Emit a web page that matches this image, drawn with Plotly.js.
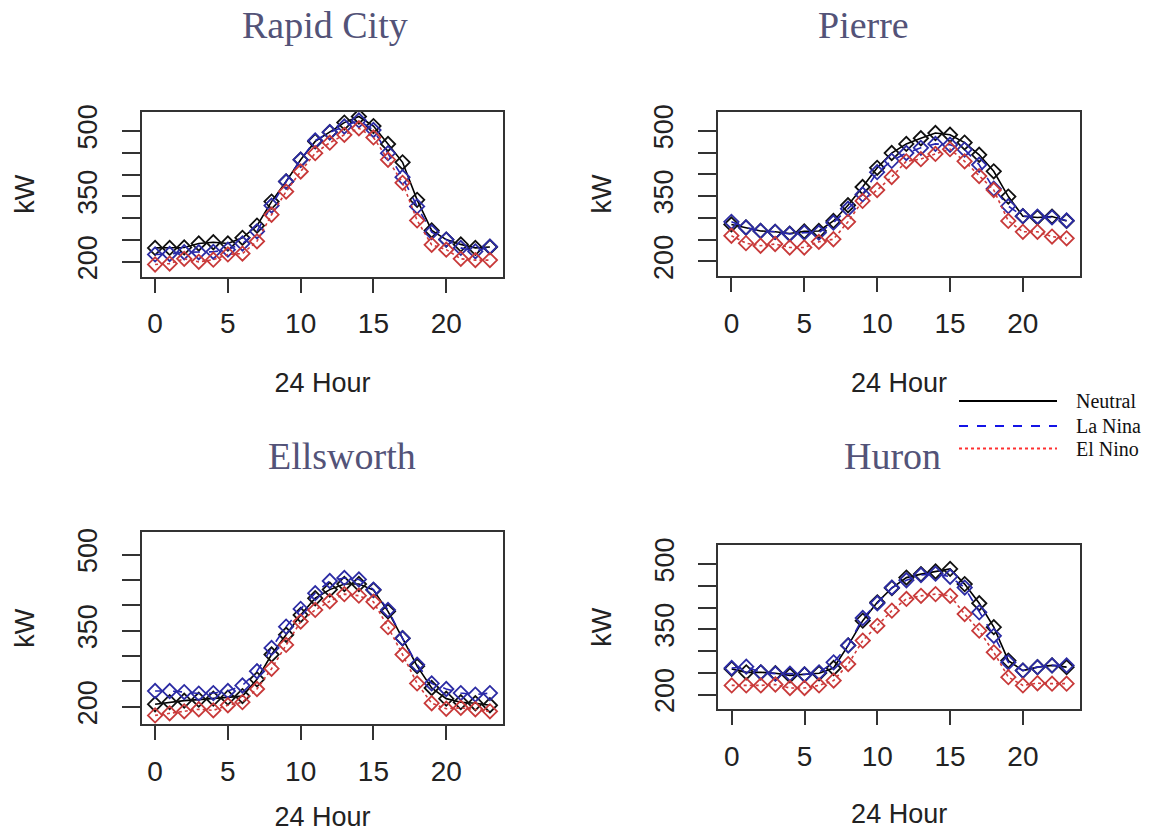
<!DOCTYPE html>
<html>
<head>
<meta charset="utf-8">
<script src="https://cdn.plot.ly/plotly-3.0.1.min.js"></script>
<style>html,body{margin:0;padding:0;background:#fff;}#chart{width:1153px;height:832px;}</style>
</head>
<body>
<div id="chart"></div>
<script>
const hours = [0,1,2,3,4,5,6,7,8,9,10,11,12,13,14,15,16,17,18,19,20,21,22,23];
const cities = ["Rapid City", "Pierre", "Ellsworth", "Huron"];
const seriesNames = ["Neutral", "La Nina", "El Nino"];
const xTickVals = [0, 5, 10, 15, 20];
const yTickVals = [200, 250, 300, 350, 400, 450, 500];
const yTickText = ["200", "", "", "350", "", "", "500"];

const rapidNeutral = [232,232,233,242,245,242,255,283,338,384,434,476,497,519,533,511,470,428,342,272,251,240,232,234];
const rapidLaNina  = [217,218,222,222,223,228,242,270,329,384,434,478,497,510,524,502,449,394,327,268,251,232,224,235];
const rapidElNino  = [194,196,207,200,205,217,219,247,308,361,407,449,473,491,506,485,434,381,295,239,228,207,204,204];

const pierreNeutral = [285,278,270,268,264,269,270,293,329,371,415,449,470,483,495,491,473,445,407,349,304,301,303,293];
const pierreLaNina  = [291,278,270,268,263,266,266,289,321,354,405,431,449,461,470,468,457,422,367,327,304,303,301,294];
const pierreElNino  = [259,242,236,240,232,232,245,251,291,339,364,394,430,435,447,458,430,396,364,293,268,268,257,253];

const ellsNeutral = [205,209,212,214,216,218,221,254,303,342,381,414,431,442,442,430,388,335,280,237,216,209,207,203];
const ellsLaNina  = [231,231,229,226,227,231,242,270,316,358,393,424,448,454,451,431,391,335,283,246,235,227,224,227];
const ellsElNino  = [183,187,191,195,193,203,209,235,275,322,368,391,408,422,419,407,357,303,246,207,196,198,195,191];

const huronNeutral = [259,251,251,249,244,246,249,261,313,370,412,445,469,477,483,489,454,410,355,278,255,263,267,263];
const huronLaNina  = [261,264,251,248,248,246,251,274,313,376,410,446,463,475,478,471,446,389,335,274,255,263,267,267];
const huronElNino  = [221,221,221,223,215,215,221,232,270,324,358,393,420,427,431,427,385,347,297,240,221,226,225,225];

const cityData = [
  [rapidNeutral, rapidLaNina, rapidElNino],
  [pierreNeutral, pierreLaNina, pierreElNino],
  [ellsNeutral, ellsLaNina, ellsElNino],
  [huronNeutral, huronLaNina, huronElNino]
];

const lineColors = ["#000000", "#2424b0", "#d23a3a"];
const markerColors = ["#111111", "#2c2ca4", "#c83a3a"];
const dashes = ["solid", "dash", "dot"];
const legendLineColors = ["#000000", "#1414e6", "#ff3030"];

const traces = [];
cityData.forEach((sets, ci) => {
  const sfx = ci === 0 ? "" : String(ci + 1);
  sets.forEach((vals, si) => {
    traces.push({
      x: hours, y: vals, type: "scatter", mode: "lines+markers",
      name: seriesNames[si] + " - " + cities[ci],
      xaxis: "x" + sfx, yaxis: "y" + sfx, showlegend: false,
      line: {color: lineColors[si], width: 1.6, dash: dashes[si]},
      marker: {symbol: "diamond-open", size: 11, color: markerColors[si], line: {width: 1.8, color: markerColors[si]}},
      hoverinfo: "x+y+name"
    });
  });
});

const W = 1153, H = 832;
const panels = [
  {x: [141.7, 503.3], y: [111.7, 276.7], title: [325, 25], xstand: 35},
  {x: [718, 1080], y: [111.7, 276.2], title: [863, 25], xstand: 35},
  {x: [141.7, 503.3], y: [532.3, 724], title: [342, 456], xstand: 33},
  {x: [718.3, 1080], y: [545, 709.3], title: [892, 456], xstand: 33}
];

const tickFontX = {family: "Liberation Sans, Arial, sans-serif", size: 28, color: "#222"};
const tickFontY = {family: "Liberation Sans, Arial, sans-serif", size: 27, color: "#222"};
const axTitleFont = {family: "Liberation Sans, Arial, sans-serif", size: 27, color: "#222"};

const layout = {
  width: W, height: H,
  margin: {l: 0, r: 0, t: 0, b: 0},
  paper_bgcolor: "#fff", plot_bgcolor: "#fff",
  showlegend: false,
  annotations: [], shapes: []
};

panels.forEach((p, i) => {
  const sfx = i === 0 ? "" : String(i + 1);
  layout["xaxis" + sfx] = {
    domain: [p.x[0] / W, p.x[1] / W],
    anchor: "y" + sfx,
    range: [-0.92, 23.92],
    tickvals: xTickVals,
    ticks: "outside", ticklen: 14, tickwidth: 2, tickcolor: "#333",
    ticklabelstandoff: 7,
    showline: true, mirror: true, linewidth: 2, linecolor: "#333",
    showgrid: false, zeroline: false,
    tickfont: tickFontX,
    title: {text: "24 Hour", font: axTitleFont, standoff: p.xstand}
  };
  layout["yaxis" + sfx] = {
    domain: [1 - p.y[1] / H, 1 - p.y[0] / H],
    anchor: "x" + sfx,
    range: [166, 544],
    tickvals: yTickVals, ticktext: yTickText,
    tickangle: -90,
    ticks: "outside", ticklen: 18, tickwidth: 2, tickcolor: "#333",
    ticklabelstandoff: 14,
    showline: true, mirror: true, linewidth: 2, linecolor: "#333",
    showgrid: false, zeroline: false,
    tickfont: tickFontY,
    title: {text: "kW", font: axTitleFont, standoff: 30}
  };
  layout.annotations.push({
    text: cities[i], xref: "paper", yref: "paper",
    x: p.title[0] / W, y: 1 - p.title[1] / H,
    xanchor: "center", yanchor: "middle", showarrow: false,
    font: {family: "Liberation Serif, Times New Roman, serif", size: 38, color: "#535378"}
  });
});

// Legend (drawn manually to match the long sample lines)
const legendY = [401, 426, 448.5];
seriesNames.forEach((n, i) => {
  layout.shapes.push({
    type: "line", xref: "paper", yref: "paper",
    x0: 959 / W, x1: 1057 / W, y0: 1 - legendY[i] / H, y1: 1 - legendY[i] / H,
    line: {color: legendLineColors[i], width: 2, dash: dashes[i]}
  });
  layout.annotations.push({
    text: n, xref: "paper", yref: "paper",
    x: 1074 / W, y: 1 - legendY[i] / H,
    xanchor: "left", yanchor: "middle", showarrow: false,
    font: {family: "Liberation Serif, Times New Roman, serif", size: 20, color: "#111"}
  });
});

Plotly.newPlot("chart", traces, layout, {displayModeBar: false, staticPlot: true});
</script>
</body>
</html>
